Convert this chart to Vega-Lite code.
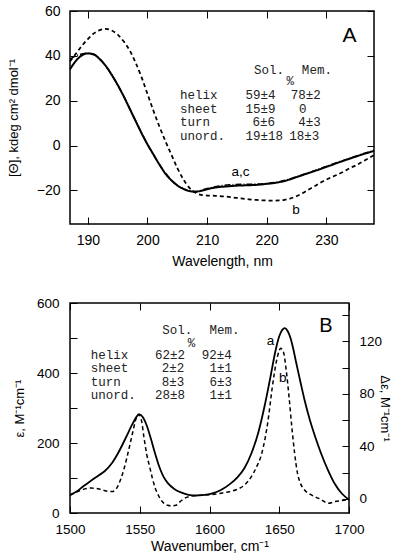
{
  "$schema": "https://vega.github.io/schema/vega-lite/v6.json",
  "padding": {"left": 6, "top": 3, "right": 0, "bottom": 0},
  "spacing": 26,
  "config": {
    "view": {"stroke": "black", "strokeWidth": 1.5},
    "font": "Liberation Sans",
    "axis": {
      "grid": false, "domain": false, "tickColor": "black", "tickSize": -7, "tickWidth": 1,
      "labelFont": "Liberation Sans", "labelFontSize": 14, "labelColor": "black", "labelFlush": false, "format": "d",
      "titleFont": "Liberation Sans", "titleFontSize": 13, "titleFontWeight": "normal", "titleColor": "black"
    }
  },
  "datasets": {
    "cd": [
      {"wl":187,"th":34,"s":"a"},{"wl":188,"th":37.8,"s":"a"},{"wl":189,"th":40.2,"s":"a"},{"wl":190,"th":41.1,"s":"a"},{"wl":191,"th":40.6,"s":"a"},{"wl":192,"th":38.5,"s":"a"},{"wl":193,"th":35.5,"s":"a"},{"wl":194,"th":31.5,"s":"a"},{"wl":195,"th":27,"s":"a"},{"wl":196,"th":22,"s":"a"},{"wl":197,"th":16.5,"s":"a"},{"wl":198,"th":11,"s":"a"},{"wl":199,"th":5.5,"s":"a"},{"wl":200,"th":0.5,"s":"a"},{"wl":201,"th":-4,"s":"a"},{"wl":202,"th":-8.5,"s":"a"},{"wl":203,"th":-12.5,"s":"a"},{"wl":204,"th":-15.5,"s":"a"},{"wl":205,"th":-17.8,"s":"a"},{"wl":206,"th":-19.3,"s":"a"},{"wl":207,"th":-20.3,"s":"a"},{"wl":208,"th":-20.6,"s":"a"},{"wl":209,"th":-20.2,"s":"a"},{"wl":210,"th":-19.5,"s":"a"},{"wl":211,"th":-18.9,"s":"a"},{"wl":212,"th":-18.5,"s":"a"},{"wl":213,"th":-18.3,"s":"a"},{"wl":214,"th":-18.1,"s":"a"},{"wl":215,"th":-17.9,"s":"a"},{"wl":216,"th":-17.8,"s":"a"},{"wl":217,"th":-17.7,"s":"a"},{"wl":218,"th":-17.6,"s":"a"},{"wl":219,"th":-17.4,"s":"a"},{"wl":220,"th":-17.1,"s":"a"},{"wl":221,"th":-16.8,"s":"a"},{"wl":222,"th":-16.4,"s":"a"},{"wl":223,"th":-15.8,"s":"a"},{"wl":224,"th":-15,"s":"a"},{"wl":225,"th":-14.1,"s":"a"},{"wl":226,"th":-13.2,"s":"a"},{"wl":227,"th":-12.3,"s":"a"},{"wl":228,"th":-11.4,"s":"a"},{"wl":229,"th":-10.5,"s":"a"},{"wl":230,"th":-9.5,"s":"a"},{"wl":231,"th":-8.6,"s":"a"},{"wl":232,"th":-7.6,"s":"a"},{"wl":233,"th":-6.7,"s":"a"},{"wl":234,"th":-5.8,"s":"a"},{"wl":235,"th":-4.9,"s":"a"},{"wl":236,"th":-4,"s":"a"},{"wl":237,"th":-3.2,"s":"a"},{"wl":238,"th":-2.4,"s":"a"},
      {"wl":187,"th":38.5,"s":"c"},{"wl":188,"th":40,"s":"c"},{"wl":189,"th":40.8,"s":"c"},{"wl":190,"th":41.2,"s":"c"},{"wl":191,"th":40.7,"s":"c"},{"wl":192,"th":38.6,"s":"c"},{"wl":194,"th":31.6,"s":"c"},{"wl":196,"th":22.1,"s":"c"},{"wl":198,"th":11.1,"s":"c"},{"wl":200,"th":0.6,"s":"c"},{"wl":202,"th":-8.4,"s":"c"},{"wl":204,"th":-15.4,"s":"c"},{"wl":206,"th":-19.2,"s":"c"},{"wl":208,"th":-20.5,"s":"c"},{"wl":210,"th":-19.2,"s":"c"},{"wl":212,"th":-18,"s":"c"},{"wl":214,"th":-17.5,"s":"c"},{"wl":216,"th":-17.3,"s":"c"},{"wl":218,"th":-17.2,"s":"c"},{"wl":220,"th":-16.9,"s":"c"},{"wl":222,"th":-16.2,"s":"c"},{"wl":224,"th":-14.8,"s":"c"},{"wl":226,"th":-13,"s":"c"},{"wl":228,"th":-11.2,"s":"c"},{"wl":230,"th":-9.3,"s":"c"},{"wl":232,"th":-7.4,"s":"c"},{"wl":234,"th":-5.6,"s":"c"},{"wl":236,"th":-3.8,"s":"c"},{"wl":238,"th":-2.2,"s":"c"},
      {"wl":187,"th":37.5,"s":"b"},{"wl":188,"th":41,"s":"b"},{"wl":189,"th":44.5,"s":"b"},{"wl":190,"th":47.5,"s":"b"},{"wl":191,"th":50,"s":"b"},{"wl":192,"th":51.5,"s":"b"},{"wl":193,"th":52,"s":"b"},{"wl":194,"th":51.3,"s":"b"},{"wl":195,"th":49.5,"s":"b"},{"wl":196,"th":46.5,"s":"b"},{"wl":197,"th":42.5,"s":"b"},{"wl":198,"th":37,"s":"b"},{"wl":199,"th":30.5,"s":"b"},{"wl":200,"th":23,"s":"b"},{"wl":201,"th":15.5,"s":"b"},{"wl":202,"th":8.5,"s":"b"},{"wl":203,"th":2,"s":"b"},{"wl":204,"th":-4,"s":"b"},{"wl":205,"th":-10,"s":"b"},{"wl":206,"th":-15,"s":"b"},{"wl":207,"th":-18.8,"s":"b"},{"wl":208,"th":-21,"s":"b"},{"wl":209,"th":-22,"s":"b"},{"wl":210,"th":-22.3,"s":"b"},{"wl":211,"th":-22.4,"s":"b"},{"wl":212,"th":-22.5,"s":"b"},{"wl":213,"th":-22.7,"s":"b"},{"wl":214,"th":-23,"s":"b"},{"wl":215,"th":-23.4,"s":"b"},{"wl":216,"th":-23.7,"s":"b"},{"wl":217,"th":-24,"s":"b"},{"wl":218,"th":-24.2,"s":"b"},{"wl":219,"th":-24.4,"s":"b"},{"wl":220,"th":-24.5,"s":"b"},{"wl":221,"th":-24.6,"s":"b"},{"wl":222,"th":-24.5,"s":"b"},{"wl":223,"th":-24.2,"s":"b"},{"wl":224,"th":-23.6,"s":"b"},{"wl":225,"th":-22.6,"s":"b"},{"wl":226,"th":-21.3,"s":"b"},{"wl":227,"th":-19.7,"s":"b"},{"wl":228,"th":-18.2,"s":"b"},{"wl":229,"th":-16.6,"s":"b"},{"wl":230,"th":-15.2,"s":"b"},{"wl":231,"th":-14,"s":"b"},{"wl":232,"th":-12.8,"s":"b"},{"wl":233,"th":-11.5,"s":"b"},{"wl":234,"th":-10,"s":"b"},{"wl":235,"th":-8.8,"s":"b"},{"wl":236,"th":-7.3,"s":"b"},{"wl":237,"th":-5.8,"s":"b"},{"wl":238,"th":-4.3,"s":"b"}
    ],
    "tabA": [
      {"x":217.86,"y":33.9,"t":"Sol."},{"x":225.9,"y":33.9,"t":"Mem."},{"x":223.3,"y":28.6,"t":"%"},
      {"x":205.46,"y":22.4,"t":"helix"},{"x":205.46,"y":16.4,"t":"sheet"},{"x":205.46,"y":10.4,"t":"turn"},{"x":205.46,"y":4.4,"t":"unord."},
      {"x":216.44,"y":22.4,"t":"59±4"},{"x":216.44,"y":16.4,"t":"15±9"},{"x":217.6,"y":10.4,"t":"6±6"},{"x":216.44,"y":4.4,"t":"19±18"},
      {"x":224.04,"y":22.4,"t":"78±2"},{"x":225.4,"y":16.4,"t":"0"},{"x":225.3,"y":10.4,"t":"4±3"},{"x":223.8,"y":4.4,"t":"18±3"}
    ],
    "labA": [
      {"x":233.9,"y":49,"t":"A","sz":21},{"x":215.6,"y":-11.7,"t":"a,c","sz":13.5},{"x":224.9,"y":-28.8,"t":"b","sz":13.5}
    ],
    "eps": [
      {"wn":1500,"e":51},{"wn":1505,"e":62},{"wn":1510,"e":78},{"wn":1515,"e":92},{"wn":1520,"e":106},{"wn":1525,"e":120},{"wn":1530,"e":142},{"wn":1535,"e":175},{"wn":1540,"e":215},{"wn":1545,"e":256},{"wn":1548,"e":277},{"wn":1550,"e":282},{"wn":1552,"e":275},{"wn":1555,"e":250},{"wn":1558,"e":212},{"wn":1561,"e":170},{"wn":1564,"e":132},{"wn":1567,"e":104},{"wn":1570,"e":86},{"wn":1575,"e":68},{"wn":1580,"e":58},{"wn":1585,"e":52},{"wn":1590,"e":50},{"wn":1595,"e":51},{"wn":1600,"e":54},{"wn":1605,"e":60},{"wn":1610,"e":70},{"wn":1615,"e":84},{"wn":1620,"e":102},{"wn":1625,"e":128},{"wn":1630,"e":170},{"wn":1635,"e":230},{"wn":1640,"e":315},{"wn":1644,"e":395},{"wn":1647,"e":458},{"wn":1650,"e":505},{"wn":1652,"e":522},{"wn":1654,"e":528},{"wn":1656,"e":520},{"wn":1658,"e":501},{"wn":1660,"e":470},{"wn":1662,"e":432},{"wn":1665,"e":378},{"wn":1668,"e":325},{"wn":1672,"e":265},{"wn":1676,"e":215},{"wn":1680,"e":170},{"wn":1685,"e":122},{"wn":1690,"e":82},{"wn":1695,"e":55},{"wn":1700,"e":38}
    ],
    "deps": [
      {"wn":1500,"d":3},{"wn":1505,"d":5.5},{"wn":1510,"d":7.5},{"wn":1515,"d":8.3},{"wn":1520,"d":7.8},{"wn":1525,"d":6.3},{"wn":1530,"d":5.6},{"wn":1533,"d":7.5},{"wn":1536,"d":14},{"wn":1539,"d":24},{"wn":1542,"d":37},{"wn":1545,"d":51},{"wn":1547,"d":60},{"wn":1549,"d":64.5},{"wn":1551,"d":61},{"wn":1553,"d":47},{"wn":1555,"d":34},{"wn":1557,"d":25},{"wn":1559,"d":16},{"wn":1561,"d":8.6},{"wn":1564,"d":1.5},{"wn":1567,"d":-3},{"wn":1570,"d":-4.8},{"wn":1573,"d":-5.3},{"wn":1576,"d":-4.8},{"wn":1579,"d":-2},{"wn":1582,"d":0.5},{"wn":1586,"d":2},{"wn":1590,"d":2.5},{"wn":1595,"d":3},{"wn":1600,"d":3.2},{"wn":1605,"d":3.8},{"wn":1610,"d":4.7},{"wn":1615,"d":5.8},{"wn":1620,"d":7.4},{"wn":1625,"d":10.5},{"wn":1630,"d":17},{"wn":1634,"d":25},{"wn":1637,"d":33},{"wn":1640,"d":47},{"wn":1642,"d":60},{"wn":1645,"d":85},{"wn":1648,"d":105},{"wn":1650,"d":113},{"wn":1651,"d":114.8},{"wn":1653,"d":112},{"wn":1655,"d":98},{"wn":1657,"d":78},{"wn":1659,"d":55},{"wn":1661,"d":35},{"wn":1663,"d":20},{"wn":1665,"d":12.4},{"wn":1668,"d":7},{"wn":1672,"d":3.6},{"wn":1676,"d":1.5},{"wn":1680,"d":-0.5},{"wn":1685,"d":-3.3},{"wn":1690,"d":-2},{"wn":1695,"d":-1.2},{"wn":1700,"d":-0.5}
    ],
    "tabB": [
      {"x":1566.2,"y":524,"t":"Sol."},{"x":1600,"y":523,"t":"Mem."},{"x":1584.4,"y":486.6,"t":"%"},
      {"x":1514.9,"y":451.4,"t":"helix"},{"x":1514.9,"y":413.1,"t":"sheet"},{"x":1514.9,"y":374.9,"t":"turn"},{"x":1514.9,"y":336.6,"t":"unord."},
      {"x":1561,"y":451.4,"t":"62±2"},{"x":1565.7,"y":413.1,"t":"2±2"},{"x":1565.7,"y":374.9,"t":"8±3"},{"x":1561,"y":336.6,"t":"28±8"},
      {"x":1594.5,"y":451.4,"t":"92±4"},{"x":1600,"y":413.1,"t":"1±1"},{"x":1600,"y":374.9,"t":"6±3"},{"x":1600,"y":336.6,"t":"1±1"}
    ],
    "labB": [
      {"x":1683.5,"y":534,"t":"B","sz":20},{"x":1643.7,"y":491,"t":"a","sz":13.5},{"x":1652.5,"y":386.6,"t":"b","sz":13.5}
    ]
  },
  "vconcat": [
    {
      "width": 304, "height": 213,
      "resolve": {"axis": {"x": "independent", "y": "independent"}},
      "layer": [
        {
          "data": {"name": "cd"},
          "mark": {"type": "line", "color": "black", "interpolate": "monotone"},
          "encoding": {
            "x": {"field": "wl", "type": "quantitative", "scale": {"domain": [187, 238], "nice": false, "zero": false},
                  "axis": {"title": "Wavelength, nm", "titleFontSize": 14, "values": [190, 200, 210, 220, 230], "labelPadding": 16, "titlePadding": 7}},
            "y": {"field": "th", "type": "quantitative", "scale": {"domain": [-35, 60], "nice": false, "zero": false},
                  "axis": {"title": "[Θ], kdeg cm² dmol⁻¹", "values": [-20, 0, 20, 40, 60], "labelPadding": 17, "titlePadding": 16}},
            "detail": {"field": "s"},
            "strokeDash": {"field": "s", "type": "nominal", "scale": {"domain": ["a", "b", "c"], "range": [[1, 0], [4, 3], [6, 2, 1, 2]]}, "legend": null},
            "strokeWidth": {"field": "s", "type": "nominal", "scale": {"domain": ["a", "b", "c"], "range": [2, 1.5, 1]}, "legend": null}
          }
        },
        {
          "data": {"name": "tabA"},
          "mark": {"type": "text", "font": "Liberation Mono", "fontSize": 12.5, "align": "left", "baseline": "middle", "color": "#222"},
          "encoding": {
            "x": {"field": "x", "type": "quantitative", "scale": {"domain": [187, 238], "nice": false, "zero": false},
                  "axis": {"orient": "top", "labels": false, "title": null, "values": [190, 200, 210, 220, 230]}},
            "y": {"field": "y", "type": "quantitative", "scale": {"domain": [-35, 60], "nice": false, "zero": false},
                  "axis": {"orient": "right", "labels": false, "title": null, "values": [-20, 0, 20, 40, 60]}},
            "text": {"field": "t"}
          }
        },
        {
          "data": {"name": "labA"},
          "mark": {"type": "text", "font": "Liberation Sans", "align": "center", "baseline": "middle", "color": "black"},
          "encoding": {
            "x": {"field": "x", "type": "quantitative", "scale": {"domain": [187, 238], "nice": false, "zero": false}, "axis": null},
            "y": {"field": "y", "type": "quantitative", "scale": {"domain": [-35, 60], "nice": false, "zero": false}, "axis": null},
            "text": {"field": "t"},
            "size": {"field": "sz", "type": "quantitative", "scale": null}
          }
        }
      ]
    },
    {
      "width": 279, "height": 210,
      "resolve": {"scale": {"y": "independent"}, "axis": {"x": "independent", "y": "independent"}},
      "layer": [
        {
          "data": {"name": "eps"},
          "mark": {"type": "line", "color": "black", "strokeWidth": 1.8, "interpolate": "monotone"},
          "encoding": {
            "x": {"field": "wn", "type": "quantitative", "scale": {"domain": [1500, 1700], "nice": false, "zero": false},
                  "axis": {"title": "Wavenumber, cm⁻¹", "titleFontSize": 14, "labelFontSize": 13.5, "values": [1500, 1550, 1600, 1650, 1700], "labelPadding": 16, "titlePadding": 4}},
            "y": {"field": "e", "type": "quantitative", "scale": {"domain": [0, 600], "nice": false, "zero": false},
                  "axis": {"title": "ε, M⁻¹cm⁻¹", "labelFontSize": 13.5, "values": [0, 100, 200, 300, 400, 500, 600], "labelExpr": "datum.value % 200 === 0 ? datum.label : ''", "labelPadding": 18, "titlePadding": 10}}
          }
        },
        {
          "data": {"name": "deps"},
          "mark": {"type": "line", "color": "black", "strokeWidth": 1.5, "strokeDash": [4, 3], "interpolate": "monotone"},
          "encoding": {
            "x": {"field": "wn", "type": "quantitative", "scale": {"domain": [1500, 1700], "nice": false, "zero": false}, "axis": null},
            "y": {"field": "d", "type": "quantitative", "scale": {"domain": [-10.7, 149.3], "nice": false, "zero": false},
                  "axis": {"orient": "right", "title": "Δε, M⁻¹cm⁻¹", "labelFontSize": 13.5, "values": [0, 20, 40, 60, 80, 100, 120, 140], "labelExpr": "datum.value % 40 === 0 ? datum.label : ''", "labelPadding": 17, "titlePadding": -4}}
          }
        },
        {
          "data": {"name": "tabB"},
          "mark": {"type": "text", "font": "Liberation Mono", "fontSize": 12.5, "align": "left", "baseline": "middle", "color": "#222"},
          "encoding": {
            "x": {"field": "x", "type": "quantitative", "scale": {"domain": [1500, 1700], "nice": false, "zero": false},
                  "axis": {"orient": "top", "labels": false, "title": null, "values": [1500, 1550, 1600, 1650, 1700]}},
            "y": {"field": "y", "type": "quantitative", "scale": {"domain": [0, 600], "nice": false, "zero": false}, "axis": null},
            "text": {"field": "t"}
          }
        },
        {
          "data": {"name": "labB"},
          "mark": {"type": "text", "font": "Liberation Sans", "align": "center", "baseline": "middle", "color": "black"},
          "encoding": {
            "x": {"field": "x", "type": "quantitative", "scale": {"domain": [1500, 1700], "nice": false, "zero": false}, "axis": null},
            "y": {"field": "y", "type": "quantitative", "scale": {"domain": [0, 600], "nice": false, "zero": false}, "axis": null},
            "text": {"field": "t"},
            "size": {"field": "sz", "type": "quantitative", "scale": null}
          }
        }
      ]
    }
  ]
}
